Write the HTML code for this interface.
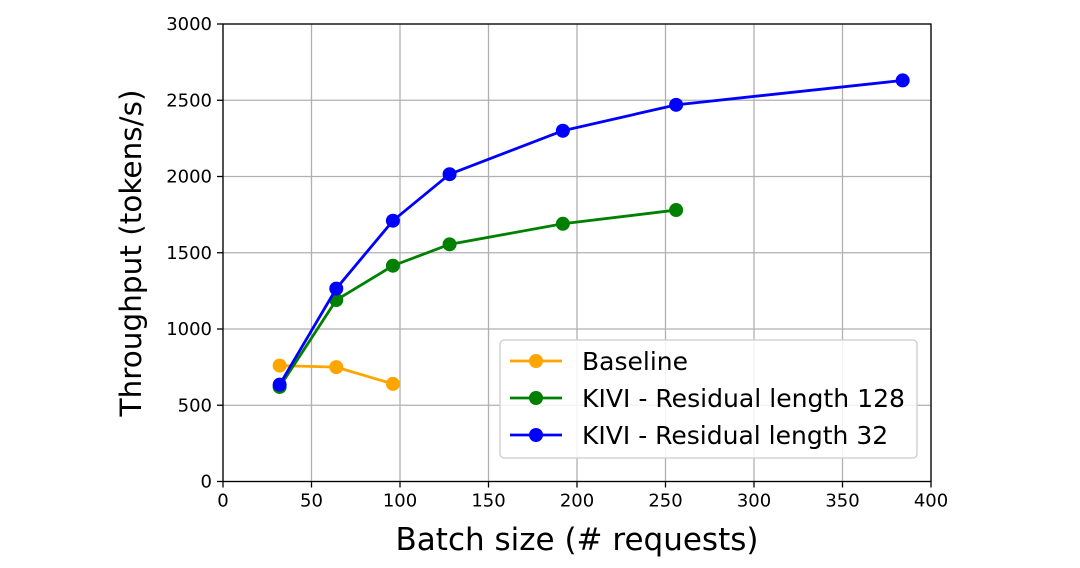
<!DOCTYPE html>
<html><head><meta charset="utf-8"><style>
body{margin:0;background:#fff;font-family:"DejaVu Sans","Liberation Sans",sans-serif}
svg text{font-family:"DejaVu Sans","Liberation Sans",sans-serif}
</style></head><body>
<svg id="chart" width="1080" height="564" xmlns="http://www.w3.org/2000/svg"></svg>
<script>
const xTicks=[0,50,100,150,200,250,300,350,400];
const yTicks=[0,500,1000,1500,2000,2500,3000];
const baselineX=[32,64,96];
const baselineY=[760,750,640];
const kivi128X=[32,64,96,128,192,256];
const kivi128Y=[620,1190,1415,1555,1690,1780];
const kivi32X=[32,64,96,128,192,256,384];
const kivi32Y=[635,1265,1710,2015,2300,2470,2630];
const seriesNames=["Baseline","KIVI - Residual length 128","KIVI - Residual length 32"];
const colors=["#ffa500","#008000","#0000ff"];
const L=223,R=931,T=24,B=481.5;
const sx=v=>L+(v-0)/400*(R-L);
const sy=v=>B-(v/3000)*(B-T);
const svg=document.getElementById('chart');
const NS="http://www.w3.org/2000/svg";
function mk(tag,attrs,parent){const e=document.createElementNS(NS,tag);for(const k in attrs)e.setAttribute(k,attrs[k]);(parent||svg).appendChild(e);return e;}
xTicks.forEach(t=>{const g=mk('line',{x1:sx(t),x2:sx(t),y1:T,y2:B,stroke:'#b0b0b0','stroke-width':1.3});


const tk=mk('line',{x1:sx(t),x2:sx(t),y1:B,y2:B+6,stroke:'#000','stroke-width':1.3});


const tx=mk('text',{x:sx(t),y:B+25,'text-anchor':'middle','font-size':18});tx.textContent=t;

});
yTicks.forEach(t=>{const g=mk('line',{x1:L,x2:R,y1:sy(t),y2:sy(t),stroke:'#b0b0b0','stroke-width':1.3});


const tk=mk('line',{x1:L-6,x2:L,y1:sy(t),y2:sy(t),stroke:'#000','stroke-width':1.3});


const tx=mk('text',{x:L-11,y:sy(t)+6,'text-anchor':'end','font-size':18});tx.textContent=t;

});
const frame=mk('rect',{x:L,y:T,width:R-L,height:B-T,fill:'none',stroke:'#000','stroke-width':1.3});


const data=[[baselineX,baselineY],[kivi128X,kivi128Y],[kivi32X,kivi32Y]];
data.forEach((d,i)=>{
 const pl=mk('polyline',{points:d[0].map((x,j)=>sx(x)+','+sy(d[1][j])).join(' '),fill:'none',stroke:colors[i],'stroke-width':2.8});
 
 
 d[0].forEach((x,j)=>{const c=mk('circle',{cx:sx(x),cy:sy(d[1][j]),r:7,fill:colors[i]});
 
 });
});
const lg=mk('rect',{x:500,y:340,width:417,height:118,rx:4,fill:'#fff','fill-opacity':0.85,stroke:'#ccc','stroke-width':1.3});


seriesNames.forEach((n,i)=>{const y=361+i*37;
 const l=mk('line',{x1:510,x2:562,y1:y,y2:y,stroke:colors[i],'stroke-width':2.8});
 
 
 const c=mk('circle',{cx:536,cy:y,r:7,fill:colors[i]});
 
 
 const t=mk('text',{x:582,y:y+9,'font-size':25,textLength:323,lengthAdjust:'spacingAndGlyphs'});t.textContent=n;
 if(i!==1)t.removeAttribute('textLength');
 
 });
const xt=mk('text',{x:577,y:550,'text-anchor':'middle','font-size':31});xt.textContent='Batch size (# requests)';


const yt=mk('text',{x:0,y:0,'text-anchor':'middle','font-size':29.5,transform:'translate(141,253) rotate(-90)'});yt.textContent='Throughput (tokens/s)';


</script>
</body></html>
